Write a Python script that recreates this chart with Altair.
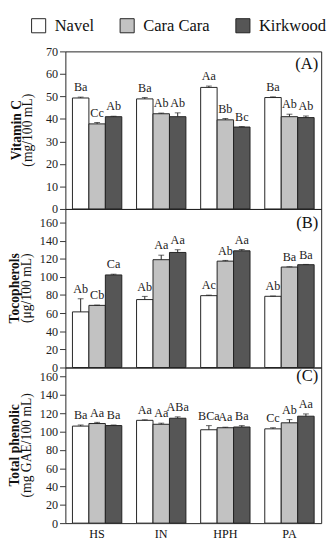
import altair as alt
import pandas as pd

SERIF = "Liberation Serif"

groups = ["HS", "IN", "HPH", "PA"]
cultivars = ["Navel", "Cara Cara", "Kirkwood"]
fills = ["#ffffff", "#c2c2c2", "#565656"]

# Panel A - Vitamin C (mg/100 mL)
vitc_navel = [49.3, 48.9, 54.0, 49.5]
vitc_cara = [37.8, 42.3, 39.6, 41.0]
vitc_kirk = [41.0, 41.0, 36.4, 40.6]
vitc_err_navel = [0.4, 0.6, 0.6, 0.3]
vitc_err_cara = [0.6, 0.3, 0.6, 1.1]
vitc_err_kirk = [0.2, 1.7, 0.2, 0.7]
vitc_let_navel = ["Ba", "Ba", "Aa", "Ba"]
vitc_let_cara = ["Cc", "Ab", "Bb", "Ab"]
vitc_let_kirk = ["Ab", "Ab", "Bc", "Ab"]

# Panel B - Tocopherols (ug/100 mL)
toco_navel = [61.4, 75.0, 79.3, 78.6]
toco_cara = [68.6, 119.0, 117.4, 110.9]
toco_kirk = [102.2, 127.0, 128.8, 113.5]
toco_err_navel = [14.5, 3.5, 0.6, 0.3]
toco_err_cara = [0.3, 5.0, 0.8, 0.3]
toco_err_kirk = [0.8, 3.0, 1.5, 0.3]
toco_let_navel = ["Ab", "Ab", "Ac", "Ab"]
toco_let_cara = ["Cb", "Aa", "Ab", "Ba"]
toco_let_kirk = ["Ca", "Aa", "Aa", "Ba"]

# Panel C - Total phenolic (mg GAE/100 mL)
phen_navel = [106.0, 112.3, 102.0, 103.0]
phen_cara = [108.8, 108.0, 104.2, 109.6]
phen_kirk = [106.6, 114.6, 105.0, 116.8]
phen_err_navel = [1.2, 0.6, 4.5, 1.2]
phen_err_cara = [1.3, 1.2, 0.6, 3.5]
phen_err_kirk = [0.6, 1.5, 1.5, 2.5]
phen_let_navel = ["Ba", "Aa", "BCa", "Cc"]
phen_let_cara = ["Aa", "Aa", "Aa", "Ab"]
phen_let_kirk = ["Ba", "ABa", "Ba", "Aa"]

ticks_a = [0, 10, 20, 30, 40, 50, 60, 70]
ticks_bc = [0, 20, 40, 60, 80, 100, 120, 140, 160]

W = 263


def make_panel(vals, errs, lets, ymax, tick_vals, title_bold, title_unit, tag,
               height, bottom, tx_bold, tx_unit, tag_y):
    rows = []
    for c, vl, el, ll in zip(cultivars, vals, errs, lets):
        for g, v, e, l in zip(groups, vl, el, ll):
            rows.append(dict(group=g, cultivar=c, value=v, top=v + e, letter=l))
    df = pd.DataFrame(rows)

    if bottom:
        xaxis = alt.Axis(title=None, labelAngle=0, ticks=False, domain=False,
                         labelFont=SERIF, labelFontSize=12.5, labelColor="#111",
                         labelPadding=5)
    else:
        xaxis = alt.Axis(title=None, labels=False, ticks=False, domain=False)
    x = alt.X("group:N", sort=groups, axis=xaxis,
              scale=alt.Scale(paddingInner=0.23, paddingOuter=0.11))
    xo = alt.XOffset("cultivar:N", sort=cultivars,
                     scale=alt.Scale(paddingInner=0, paddingOuter=0))
    yscale = alt.Scale(domain=[0, ymax], nice=False)
    yaxis = alt.Axis(title=None, values=tick_vals, grid=False, domain=False,
                     tickSize=6, tickColor="#333", labelFont=SERIF,
                     labelFontSize=12.5, labelColor="#222", labelPadding=2)
    color = alt.Color(
        "cultivar:N", sort=cultivars,
        scale=alt.Scale(domain=cultivars, range=fills),
        legend=alt.Legend(orient="none", legendX=-36, legendY=-35,
                          direction="horizontal", title=None,
                          symbolType="square", symbolSize=210,
                          symbolStrokeColor="#222", symbolStrokeWidth=1,
                          symbolOpacity=1,
                          labelFont=SERIF, labelFontSize=17, labelColor="#111",
                          labelOffset=8, columnPadding=24),
    )
    base = alt.Chart(df).encode(x=x, xOffset=xo)
    shadow = base.mark_bar(color="#7a7a7a", opacity=0.4, xOffset=2.5,
                           yOffset=1.5, clip=True).encode(
        y=alt.Y("value:Q", scale=yscale, axis=yaxis))
    bars = base.mark_bar(stroke="#222", strokeWidth=1).encode(
        y=alt.Y("value:Q", scale=yscale, axis=yaxis), color=color)
    rule = base.mark_rule(color="#222", strokeWidth=1).encode(
        y=alt.Y("value:Q", scale=yscale, axis=yaxis), y2="top:Q")
    cap = base.mark_tick(color="#222", size=6, thickness=1).encode(
        y=alt.Y("top:Q", scale=yscale, axis=yaxis))
    letters = base.mark_text(baseline="bottom", dy=-3, fontSize=12.5, font=SERIF,
                             color="#222").encode(
        y=alt.Y("top:Q", scale=yscale, axis=yaxis), text="letter:N")

    t_bold = alt.Chart(pd.DataFrame({"t": [title_bold]})).mark_text(
        angle=270, fontWeight="bold", fontSize=14, font=SERIF, color="#111",
        align="center", baseline="middle").encode(
        x=alt.value(tx_bold), y=alt.value(height / 2), text="t:N")
    t_unit = alt.Chart(pd.DataFrame({"t": [title_unit]})).mark_text(
        angle=270, fontSize=14, font=SERIF, color="#111",
        align="center", baseline="middle").encode(
        x=alt.value(tx_unit), y=alt.value(height / 2), text="t:N")
    t_tag = alt.Chart(pd.DataFrame({"t": [tag]})).mark_text(
        align="right", baseline="middle", fontSize=17, font=SERIF,
        color="#111").encode(
        x=alt.value(W - 3), y=alt.value(tag_y), text="t:N")

    return alt.layer(shadow, bars, rule, cap, letters, t_bold, t_unit, t_tag
                     ).properties(width=W, height=height)


pA = make_panel([vitc_navel, vitc_cara, vitc_kirk],
                [vitc_err_navel, vitc_err_cara, vitc_err_kirk],
                [vitc_let_navel, vitc_let_cara, vitc_let_kirk],
                70, ticks_a, "Vitamin C", "(mg/100 mL)", "(A)", 162, False,
                -50, -38, 13)
pB = make_panel([toco_navel, toco_cara, toco_kirk],
                [toco_err_navel, toco_err_cara, toco_err_kirk],
                [toco_let_navel, toco_let_cara, toco_let_kirk],
                175, ticks_bc, "Tocopherols", "(\u03bcg/100 mL)", "(B)", 163, False,
                -51.5, -39.5, 15)
pC = make_panel([phen_navel, phen_cara, phen_kirk],
                [phen_err_navel, phen_err_cara, phen_err_kirk],
                [phen_let_navel, phen_let_cara, phen_let_kirk],
                170, ticks_bc, "Total phenolic", "(mg GAE/100 mL)", "(C)", 160, True,
                -51.5, -39.5, 9)

chart = alt.vconcat(pA, pB, pC, spacing=0, bounds="flush").properties(
    padding={"left": 0, "top": 2, "right": 2, "bottom": 2},
    background="white",
).configure(font=SERIF).configure_view(stroke="#222", strokeWidth=1).configure_legend(
    labelFont=SERIF, labelFontSize=17, labelColor="#111"
).configure_axis(labelFont=SERIF)

chart.save("out.html", embed_options={"renderer": "svg", "actions": False})
